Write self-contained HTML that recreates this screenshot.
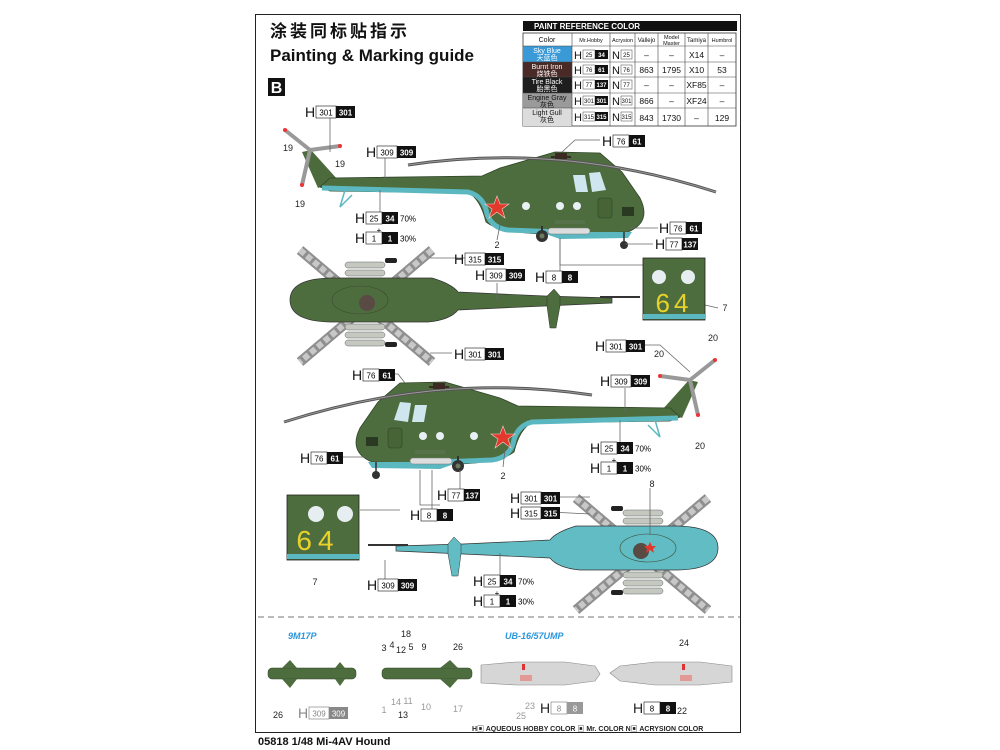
<!DOCTYPE html>
<html><head><meta charset="utf-8">
<style>
html,body{margin:0;padding:0;background:#fff;}
svg{display:block;font-family:"Liberation Sans","Noto Sans CJK SC",sans-serif;}
.n{font-size:9px;fill:#222}
.H{font-size:14px;fill:#111}
</style></head><body>
<svg width="1000" height="750" viewBox="0 0 1000 750" xmlns="http://www.w3.org/2000/svg">
<defs>
 <g id="heli">
  <path d="M318,188 L302,152 L311,150 L338,180 Z" fill="#4c6b3c"/>
  <path d="M320,187 L330,178 L482,176 L500,168 L555,152 L600,153 L622,172 L640,198 Q652,222 628,232 L540,234 Q498,232 486,222 Q480,198 468,193 L330,191 Z" fill="#4e6d3e" stroke="#2f4427" stroke-width="0.8"/>
  <path d="M322,188 L468,192 Q484,196 487,214 Q492,228 508,230 L560,232" fill="none" stroke="#5cb8c0" stroke-width="5"/>
  <path d="M540,232 L632,232 L628,238 L560,239 Z" fill="#5cb8c0"/>
  <path d="M573,175 L585,175 L588,192 L576,192 Z" fill="#cfe6ee"/>
  <path d="M589,173 L600,172 L606,190 L592,192 Z" fill="#cfe6ee"/>
  <circle cx="526" cy="206" r="4" fill="#e8f0f5"/>
  <circle cx="560" cy="206" r="4" fill="#e8f0f5"/>
  <circle cx="577" cy="206" r="4" fill="#e8f0f5"/>
  <rect x="622" y="207" width="12" height="9" fill="#2a3a22"/>
  <rect x="598" y="198" width="14" height="20" rx="3" fill="#466436" stroke="#2f4427" stroke-width="0.6"/>
  <polygon points="497,196 500,204 509,204 502,209 505,218 497,212 489,218 492,209 485,204 494,204" fill="#e2392c" stroke="#f4d0c8" stroke-width="0.6"/>
  <rect x="548" y="228" width="42" height="6" rx="3" fill="#ddd" stroke="#777" stroke-width="0.5"/>
  <rect x="555" y="220" width="30" height="4" fill="#56724a"/>
  <line x1="542" y1="226" x2="542" y2="234" stroke="#333" stroke-width="2"/>
  <circle cx="542" cy="236" r="6" fill="#333"/><circle cx="542" cy="236" r="2.5" fill="#6a7a5a"/>
  <line x1="624" y1="232" x2="624" y2="242" stroke="#333" stroke-width="1.5"/>
  <circle cx="624" cy="245" r="4" fill="#333"/>
  <path d="M345,190 L340,207 L352,195" fill="none" stroke="#5cb8c0" stroke-width="1.5"/>
  <path d="M408,165 Q560,142 716,192" fill="none" stroke="#555" stroke-width="3"/>
  <path d="M408,165 Q560,142 716,192" fill="none" stroke="#999" stroke-width="1"/>
  <rect x="555" y="153" width="12" height="6" fill="#3a2a22"/>
  <rect x="551" y="156" width="20" height="2" fill="#3a2a22"/>
  <line x1="310" y1="150" x2="285" y2="130" stroke="#999" stroke-width="4"/>
  <line x1="310" y1="150" x2="340" y2="146" stroke="#999" stroke-width="4"/>
  <line x1="310" y1="150" x2="302" y2="185" stroke="#999" stroke-width="4"/>
  <circle cx="285" cy="130" r="2" fill="#e33"/><circle cx="340" cy="146" r="2" fill="#e33"/><circle cx="302" cy="185" r="2" fill="#e33"/>
 </g>
 <g id="top">
  <g stroke="#8f8f8f" stroke-width="10"><line x1="300" y1="250" x2="432" y2="362"/><line x1="432" y1="250" x2="300" y2="362"/></g>
  <g stroke="#c8c8c8" stroke-width="6" stroke-dasharray="6 3"><line x1="300" y1="250" x2="432" y2="362"/><line x1="432" y1="250" x2="300" y2="362"/></g>
  <g fill="#c4c8c0" stroke="#666" stroke-width="0.5">
   <rect x="345" y="262" width="40" height="6" rx="3"/><rect x="345" y="270" width="40" height="6" rx="3"/><rect x="345" y="278" width="40" height="6" rx="3"/>
   <rect x="345" y="324" width="40" height="6" rx="3"/><rect x="345" y="332" width="40" height="6" rx="3"/><rect x="345" y="340" width="40" height="6" rx="3"/>
  </g>
  <path d="M290,300 Q290,279 330,278 L432,278 Q452,284 458,292 L545,296 L612,298 L612,303 L545,306 L458,310 Q450,320 428,322 L330,322 Q290,321 290,300 Z" fill="currentColor" stroke="#333" stroke-width="0.7"/>
  <path d="M547,296 L554,289 L560,296 L560,306 L556,328 L550,328 L547,306 Z" fill="currentColor" stroke="#333" stroke-width="0.5"/>
  <line x1="600" y1="297" x2="640" y2="297" stroke="#333" stroke-width="2"/>
  <ellipse cx="360" cy="300" rx="28" ry="14" fill="none" stroke="#3a4a30" stroke-width="0.6"/>
  <circle cx="367" cy="303" r="8" fill="#5a4a44"/>
  <rect x="385" y="258" width="12" height="5" rx="2" fill="#222"/><rect x="385" y="342" width="12" height="5" rx="2" fill="#222"/>
 </g>
</defs>

<rect x="255.5" y="14.5" width="485" height="718" fill="none" stroke="#222" stroke-width="1"/>
<text x="270" y="37" font-size="17" font-weight="bold" fill="#111" letter-spacing="3">涂装同标贴指示</text>
<text x="270" y="61" font-size="17" font-weight="bold" fill="#111">Painting &amp; Marking guide</text>
<rect x="268" y="78" width="17" height="18" fill="#111"/>
<text x="276.5" y="93" font-size="16" font-weight="bold" fill="#fff" text-anchor="middle">B</text>

<!-- table -->
<g font-size="7" text-anchor="middle">
<rect x="523" y="21" width="214" height="10" fill="#111"/>
<text x="534" y="29" font-size="8" font-weight="bold" fill="#fff" text-anchor="start">PAINT  REFERENCE COLOR</text>
<rect x="523" y="33" width="213" height="93" fill="#fff" stroke="#333" stroke-width="0.8"/>
<rect x="523" y="46" width="49" height="16" fill="#3a9ad8"/>
<rect x="523" y="62" width="49" height="15" fill="#4a2a26"/>
<rect x="523" y="77" width="49" height="16" fill="#1e1e1e"/>
<rect x="523" y="93" width="49" height="15" fill="#9a9a9a"/>
<rect x="523" y="108" width="49" height="18" fill="#dcdcdc"/>
<g stroke="#444" stroke-width="0.6">
<line x1="523" y1="46" x2="736" y2="46"/><line x1="523" y1="62" x2="736" y2="62"/><line x1="523" y1="77" x2="736" y2="77"/><line x1="523" y1="93" x2="736" y2="93"/><line x1="523" y1="108" x2="736" y2="108"/>
<line x1="572" y1="33" x2="572" y2="126"/><line x1="610" y1="33" x2="610" y2="126"/><line x1="635" y1="33" x2="635" y2="126"/><line x1="658" y1="33" x2="658" y2="126"/><line x1="685" y1="33" x2="685" y2="126"/><line x1="708" y1="33" x2="708" y2="126"/>
</g>
<text x="547" y="42" fill="#111">Color</text><text x="591" y="42" font-size="5.5" fill="#111">Mr.Hobby</text><text x="622.5" y="42" font-size="5.5" fill="#111">Acrysion</text><text x="646.5" y="42" font-size="6" fill="#111">Vallejo</text><text x="671.5" y="39" font-size="5.5" fill="#111">Model</text><text x="671.5" y="45" font-size="5.5" fill="#111">Master</text><text x="696.5" y="42" font-size="6" fill="#111">Tamiya</text><text x="722" y="42" font-size="5.5" fill="#111">Humbrol</text>
<g fill="#fff"><text x="547" y="53">Sky Blue</text><text x="547" y="60">天蓝色</text><text x="547" y="69">Burnt Iron</text><text x="547" y="76">烧铁色</text><text x="547" y="84">Tire Black</text><text x="547" y="91">胎黑色</text></g>
<g fill="#111"><text x="547" y="100">Engine Gray</text><text x="547" y="107">灰色</text><text x="547" y="115">Light Gull</text><text x="547" y="122">灰色</text></g>
<g font-size="8.5" fill="#111">
<text x="646.5" y="58">–</text><text x="671.5" y="58">–</text><text x="696.5" y="58">X14</text><text x="722" y="58">–</text>
<text x="646.5" y="73">863</text><text x="671.5" y="73">1795</text><text x="696.5" y="73">X10</text><text x="722" y="73">53</text>
<text x="646.5" y="88">–</text><text x="671.5" y="88">–</text><text x="696.5" y="88">XF85</text><text x="722" y="88">–</text>
<text x="646.5" y="104">866</text><text x="671.5" y="104">–</text><text x="696.5" y="104">XF24</text><text x="722" y="104">–</text>
<text x="646.5" y="121">843</text><text x="671.5" y="121">1730</text><text x="696.5" y="121">–</text><text x="722" y="121">129</text>
</g>
<g font-size="11" fill="#111" text-anchor="start"><text x="574" y="59">H</text><text x="574" y="74">H</text><text x="574" y="89">H</text><text x="574" y="105">H</text><text x="574" y="121">H</text>
<text x="612" y="59">N</text><text x="612" y="74">N</text><text x="612" y="89">N</text><text x="612" y="105">N</text><text x="612" y="121">N</text></g>
<g stroke="#444" stroke-width="0.5" fill="#fff"><rect x="583" y="50" width="12" height="9"/><rect x="583" y="65" width="12" height="9"/><rect x="583" y="80" width="12" height="9"/><rect x="583" y="96" width="12" height="9"/><rect x="583" y="112" width="12" height="9"/>
<rect x="621" y="50" width="11" height="9"/><rect x="621" y="65" width="11" height="9"/><rect x="621" y="80" width="11" height="9"/><rect x="621" y="96" width="11" height="9"/><rect x="621" y="112" width="11" height="9"/></g>
<g fill="#111"><rect x="595" y="50" width="13" height="9"/><rect x="595" y="65" width="13" height="9"/><rect x="595" y="80" width="13" height="9"/><rect x="595" y="96" width="13" height="9"/><rect x="595" y="112" width="13" height="9"/></g>
<g font-size="6" fill="#111"><text x="589" y="57">25</text><text x="589" y="72">76</text><text x="589" y="87">77</text><text x="589" y="103">301</text><text x="589" y="119">315</text>
<text x="626.5" y="57">25</text><text x="626.5" y="72">76</text><text x="626.5" y="87">77</text><text x="626.5" y="103">301</text><text x="626.5" y="119">315</text></g>
<g font-size="6" fill="#fff" font-weight="bold"><text x="601.5" y="57">34</text><text x="601.5" y="72">61</text><text x="601.5" y="87">137</text><text x="601.5" y="103">301</text><text x="601.5" y="119">315</text></g>
</g>

<use href="#heli"/>
<use href="#heli" transform="translate(1000,230) scale(-1,1)"/>
<use href="#top" color="#4e6d3e"/>
<use href="#top" color="#62bcc4" transform="translate(1008,248) scale(-1,1)"/>
<polygon points="650,542 652,546 656,546 653,549 654,553 650,550 646,553 647,549 644,546 648,546" fill="#e2392c"/>

<g stroke="#666" stroke-width="0.8" fill="none">
<line x1="330" y1="118" x2="330" y2="152"/><line x1="385" y1="158" x2="385" y2="180"/><line x1="380" y1="190" x2="380" y2="212"/>
<polyline points="600,140 575,140 562,152"/><polyline points="658,228 630,228"/><polyline points="653,244 625,244"/>
<line x1="500" y1="225" x2="497" y2="240"/><polyline points="560,238 560,265 643,265"/><line x1="560" y1="238" x2="560" y2="272"/>
<line x1="430" y1="258" x2="495" y2="258"/><line x1="497" y1="283" x2="497" y2="300"/><line x1="430" y1="353" x2="452" y2="353"/>
<line x1="705" y1="305" x2="718" y2="308"/><polyline points="630,345 660,345 690,372"/><line x1="625" y1="388" x2="625" y2="412"/><line x1="620" y1="420" x2="620" y2="444"/>
<polyline points="375,374 398,374 405,383"/><polyline points="340,457 365,457"/><line x1="460" y1="470" x2="460" y2="490"/><polyline points="420,470 420,505 440,505"/><line x1="432" y1="470" x2="432" y2="512"/>
<line x1="505" y1="450" x2="503" y2="467"/><line x1="550" y1="497" x2="590" y2="497"/><line x1="550" y1="512" x2="590" y2="514"/>
<line x1="360" y1="510" x2="400" y2="510"/><line x1="385" y1="560" x2="385" y2="582"/><line x1="500" y1="553" x2="500" y2="578"/><line x1="650" y1="488" x2="650" y2="535"/>
</g>

<g>
<g transform="translate(305,105)"><text class="H" y="12">H</text><rect x="11" y="1" width="20" height="12" fill="#fff" stroke="#333" stroke-width="0.7"/><text x="21" y="10.5" font-size="8" text-anchor="middle">301</text><rect x="31" y="1" width="19" height="12" fill="#111"/><text x="40.5" y="10.5" font-size="8" fill="#fff" font-weight="bold" text-anchor="middle">301</text></g>
<g transform="translate(366,145)"><text class="H" y="12">H</text><rect x="11" y="1" width="20" height="12" fill="#fff" stroke="#333" stroke-width="0.7"/><text x="21" y="10.5" font-size="8" text-anchor="middle">309</text><rect x="31" y="1" width="19" height="12" fill="#111"/><text x="40.5" y="10.5" font-size="8" fill="#fff" font-weight="bold" text-anchor="middle">309</text></g>
<g transform="translate(355,211)"><text class="H" y="12">H</text><rect x="11" y="1" width="16" height="12" fill="#fff" stroke="#333" stroke-width="0.7"/><text x="19" y="10.5" font-size="8" text-anchor="middle">25</text><rect x="27" y="1" width="16" height="12" fill="#111"/><text x="35" y="10.5" font-size="8" fill="#fff" font-weight="bold" text-anchor="middle">34</text><text x="45" y="10.5" font-size="8">70%</text><text x="24" y="22" font-size="8" text-anchor="middle">+</text></g>
<g transform="translate(355,231)"><text class="H" y="12">H</text><rect x="11" y="1" width="16" height="12" fill="#fff" stroke="#333" stroke-width="0.7"/><text x="19" y="10.5" font-size="8" text-anchor="middle">1</text><rect x="27" y="1" width="16" height="12" fill="#111"/><text x="35" y="10.5" font-size="8" fill="#fff" font-weight="bold" text-anchor="middle">1</text><text x="45" y="10.5" font-size="8">30%</text></g>
<g transform="translate(602,134)"><text class="H" y="12">H</text><rect x="11" y="1" width="16" height="12" fill="#fff" stroke="#333" stroke-width="0.7"/><text x="19" y="10.5" font-size="8" text-anchor="middle">76</text><rect x="27" y="1" width="16" height="12" fill="#111"/><text x="35" y="10.5" font-size="8" fill="#fff" font-weight="bold" text-anchor="middle">61</text></g>
<g transform="translate(659,221)"><text class="H" y="12">H</text><rect x="11" y="1" width="16" height="12" fill="#fff" stroke="#333" stroke-width="0.7"/><text x="19" y="10.5" font-size="8" text-anchor="middle">76</text><rect x="27" y="1" width="16" height="12" fill="#111"/><text x="35" y="10.5" font-size="8" fill="#fff" font-weight="bold" text-anchor="middle">61</text></g>
<g transform="translate(655,237)"><text class="H" y="12">H</text><rect x="11" y="1" width="16" height="12" fill="#fff" stroke="#333" stroke-width="0.7"/><text x="19" y="10.5" font-size="8" text-anchor="middle">77</text><rect x="27" y="1" width="16" height="12" fill="#111"/><text x="35" y="10.5" font-size="8" fill="#fff" font-weight="bold" text-anchor="middle">137</text></g>
<g transform="translate(454,252)"><text class="H" y="12">H</text><rect x="11" y="1" width="20" height="12" fill="#fff" stroke="#333" stroke-width="0.7"/><text x="21" y="10.5" font-size="8" text-anchor="middle">315</text><rect x="31" y="1" width="19" height="12" fill="#111"/><text x="40.5" y="10.5" font-size="8" fill="#fff" font-weight="bold" text-anchor="middle">315</text></g>
<g transform="translate(475,268)"><text class="H" y="12">H</text><rect x="11" y="1" width="20" height="12" fill="#fff" stroke="#333" stroke-width="0.7"/><text x="21" y="10.5" font-size="8" text-anchor="middle">309</text><rect x="31" y="1" width="19" height="12" fill="#111"/><text x="40.5" y="10.5" font-size="8" fill="#fff" font-weight="bold" text-anchor="middle">309</text></g>
<g transform="translate(535,270)"><text class="H" y="12">H</text><rect x="11" y="1" width="16" height="12" fill="#fff" stroke="#333" stroke-width="0.7"/><text x="19" y="10.5" font-size="8" text-anchor="middle">8</text><rect x="27" y="1" width="16" height="12" fill="#111"/><text x="35" y="10.5" font-size="8" fill="#fff" font-weight="bold" text-anchor="middle">8</text></g>
<g transform="translate(454,347)"><text class="H" y="12">H</text><rect x="11" y="1" width="20" height="12" fill="#fff" stroke="#333" stroke-width="0.7"/><text x="21" y="10.5" font-size="8" text-anchor="middle">301</text><rect x="31" y="1" width="19" height="12" fill="#111"/><text x="40.5" y="10.5" font-size="8" fill="#fff" font-weight="bold" text-anchor="middle">301</text></g>
<g transform="translate(595,339)"><text class="H" y="12">H</text><rect x="11" y="1" width="20" height="12" fill="#fff" stroke="#333" stroke-width="0.7"/><text x="21" y="10.5" font-size="8" text-anchor="middle">301</text><rect x="31" y="1" width="19" height="12" fill="#111"/><text x="40.5" y="10.5" font-size="8" fill="#fff" font-weight="bold" text-anchor="middle">301</text></g>
<g transform="translate(600,374)"><text class="H" y="12">H</text><rect x="11" y="1" width="20" height="12" fill="#fff" stroke="#333" stroke-width="0.7"/><text x="21" y="10.5" font-size="8" text-anchor="middle">309</text><rect x="31" y="1" width="19" height="12" fill="#111"/><text x="40.5" y="10.5" font-size="8" fill="#fff" font-weight="bold" text-anchor="middle">309</text></g>
<g transform="translate(590,441)"><text class="H" y="12">H</text><rect x="11" y="1" width="16" height="12" fill="#fff" stroke="#333" stroke-width="0.7"/><text x="19" y="10.5" font-size="8" text-anchor="middle">25</text><rect x="27" y="1" width="16" height="12" fill="#111"/><text x="35" y="10.5" font-size="8" fill="#fff" font-weight="bold" text-anchor="middle">34</text><text x="45" y="10.5" font-size="8">70%</text><text x="24" y="22" font-size="8" text-anchor="middle">+</text></g>
<g transform="translate(590,461)"><text class="H" y="12">H</text><rect x="11" y="1" width="16" height="12" fill="#fff" stroke="#333" stroke-width="0.7"/><text x="19" y="10.5" font-size="8" text-anchor="middle">1</text><rect x="27" y="1" width="16" height="12" fill="#111"/><text x="35" y="10.5" font-size="8" fill="#fff" font-weight="bold" text-anchor="middle">1</text><text x="45" y="10.5" font-size="8">30%</text></g>
<g transform="translate(352,368)"><text class="H" y="12">H</text><rect x="11" y="1" width="16" height="12" fill="#fff" stroke="#333" stroke-width="0.7"/><text x="19" y="10.5" font-size="8" text-anchor="middle">76</text><rect x="27" y="1" width="16" height="12" fill="#111"/><text x="35" y="10.5" font-size="8" fill="#fff" font-weight="bold" text-anchor="middle">61</text></g>
<g transform="translate(300,451)"><text class="H" y="12">H</text><rect x="11" y="1" width="16" height="12" fill="#fff" stroke="#333" stroke-width="0.7"/><text x="19" y="10.5" font-size="8" text-anchor="middle">76</text><rect x="27" y="1" width="16" height="12" fill="#111"/><text x="35" y="10.5" font-size="8" fill="#fff" font-weight="bold" text-anchor="middle">61</text></g>
<g transform="translate(437,488)"><text class="H" y="12">H</text><rect x="11" y="1" width="16" height="12" fill="#fff" stroke="#333" stroke-width="0.7"/><text x="19" y="10.5" font-size="8" text-anchor="middle">77</text><rect x="27" y="1" width="16" height="12" fill="#111"/><text x="35" y="10.5" font-size="8" fill="#fff" font-weight="bold" text-anchor="middle">137</text></g>
<g transform="translate(410,508)"><text class="H" y="12">H</text><rect x="11" y="1" width="16" height="12" fill="#fff" stroke="#333" stroke-width="0.7"/><text x="19" y="10.5" font-size="8" text-anchor="middle">8</text><rect x="27" y="1" width="16" height="12" fill="#111"/><text x="35" y="10.5" font-size="8" fill="#fff" font-weight="bold" text-anchor="middle">8</text></g>
<g transform="translate(510,491)"><text class="H" y="12">H</text><rect x="11" y="1" width="20" height="12" fill="#fff" stroke="#333" stroke-width="0.7"/><text x="21" y="10.5" font-size="8" text-anchor="middle">301</text><rect x="31" y="1" width="19" height="12" fill="#111"/><text x="40.5" y="10.5" font-size="8" fill="#fff" font-weight="bold" text-anchor="middle">301</text></g>
<g transform="translate(510,506)"><text class="H" y="12">H</text><rect x="11" y="1" width="20" height="12" fill="#fff" stroke="#333" stroke-width="0.7"/><text x="21" y="10.5" font-size="8" text-anchor="middle">315</text><rect x="31" y="1" width="19" height="12" fill="#111"/><text x="40.5" y="10.5" font-size="8" fill="#fff" font-weight="bold" text-anchor="middle">315</text></g>
<g transform="translate(367,578)"><text class="H" y="12">H</text><rect x="11" y="1" width="20" height="12" fill="#fff" stroke="#333" stroke-width="0.7"/><text x="21" y="10.5" font-size="8" text-anchor="middle">309</text><rect x="31" y="1" width="19" height="12" fill="#111"/><text x="40.5" y="10.5" font-size="8" fill="#fff" font-weight="bold" text-anchor="middle">309</text></g>
<g transform="translate(473,574)"><text class="H" y="12">H</text><rect x="11" y="1" width="16" height="12" fill="#fff" stroke="#333" stroke-width="0.7"/><text x="19" y="10.5" font-size="8" text-anchor="middle">25</text><rect x="27" y="1" width="16" height="12" fill="#111"/><text x="35" y="10.5" font-size="8" fill="#fff" font-weight="bold" text-anchor="middle">34</text><text x="45" y="10.5" font-size="8">70%</text><text x="24" y="22" font-size="8" text-anchor="middle">+</text></g>
<g transform="translate(473,594)"><text class="H" y="12">H</text><rect x="11" y="1" width="16" height="12" fill="#fff" stroke="#333" stroke-width="0.7"/><text x="19" y="10.5" font-size="8" text-anchor="middle">1</text><rect x="27" y="1" width="16" height="12" fill="#111"/><text x="35" y="10.5" font-size="8" fill="#fff" font-weight="bold" text-anchor="middle">1</text><text x="45" y="10.5" font-size="8">30%</text></g>
</g>

<g class="n" text-anchor="middle">
<text x="288" y="151">19</text><text x="340" y="167">19</text><text x="300" y="207">19</text><text x="497" y="248">2</text>
<text x="725" y="311">7</text><text x="713" y="341">20</text><text x="659" y="357">20</text><text x="700" y="449">20</text>
<text x="503" y="479">2</text><text x="652" y="487">8</text><text x="315" y="585">7</text>
</g>

<rect x="643" y="258" width="62" height="62" fill="#4e6d3e" stroke="#222" stroke-width="0.8"/>
<rect x="643" y="314" width="62" height="5" fill="#5cb8c0"/>
<circle cx="659" cy="277" r="7" fill="#e6eef2"/><circle cx="688" cy="277" r="7" fill="#e6eef2"/>
<text x="674" y="312" font-size="26" fill="#e8d22a" text-anchor="middle" letter-spacing="4">64</text>
<rect x="287" y="495" width="72" height="65" fill="#4e6d3e" stroke="#222" stroke-width="0.8"/>
<rect x="287" y="554" width="72" height="5" fill="#5cb8c0"/>
<circle cx="316" cy="514" r="8" fill="#e6eef2"/><circle cx="345" cy="514" r="8" fill="#e6eef2"/>
<text x="318" y="550" font-size="28" fill="#e8d22a" text-anchor="middle" letter-spacing="6">64</text>

<line x1="258" y1="617" x2="740" y2="617" stroke="#777" stroke-width="1" stroke-dasharray="6 4"/>
<text x="288" y="639" font-size="9" font-weight="bold" font-style="italic" fill="#2a96dc">9M17P</text>
<text x="505" y="639" font-size="9" font-weight="bold" font-style="italic" fill="#2a96dc">UB-16/57UMP</text>
<rect x="268" y="668" width="88" height="11" rx="4" fill="#4e6d3e" stroke="#2f4427" stroke-width="0.5"/>
<polygon points="282,668 290,660 297,668" fill="#4e6d3e"/><polygon points="282,679 290,688 297,679" fill="#4e6d3e"/>
<polygon points="335,668 340,662 345,668" fill="#4e6d3e"/><polygon points="335,679 340,686 345,679" fill="#4e6d3e"/>
<rect x="382" y="668" width="90" height="11" rx="4" fill="#4e6d3e" stroke="#2f4427" stroke-width="0.5"/>
<polygon points="440,668 450,660 458,668" fill="#4e6d3e"/><polygon points="440,679 450,688 458,679" fill="#4e6d3e"/>
<path d="M481,665 L516,662 L565,662 L595,666 L600,674 L595,681 L565,685 L516,685 L481,683 Z" fill="#d6d6d6" stroke="#888" stroke-width="0.6"/>
<rect x="520" y="675" width="12" height="6" fill="#e39a96"/><rect x="522" y="664" width="3" height="6" fill="#d33"/>
<path d="M610,673 L620,666 L655,662 L700,662 L732,666 L732,682 L700,685 L655,685 L620,681 Z" fill="#d6d6d6" stroke="#888" stroke-width="0.6"/>
<rect x="680" y="675" width="12" height="6" fill="#e39a96"/><rect x="682" y="664" width="3" height="6" fill="#d33"/>
<g class="n" text-anchor="middle">
<text x="384" y="651">3</text><text x="392" y="648">4</text><text x="406" y="637">18</text><text x="401" y="653">12</text><text x="411" y="650">5</text><text x="424" y="650">9</text><text x="458" y="650">26</text>
<text x="384" y="713" fill="#999">1</text><text x="396" y="705" fill="#999">14</text><text x="408" y="704" fill="#999">11</text><text x="403" y="718">13</text><text x="426" y="710" fill="#999">10</text><text x="458" y="712" fill="#999">17</text>
<text x="278" y="718">26</text><text x="530" y="709" fill="#999">23</text><text x="521" y="719" fill="#999">25</text><text x="684" y="646">24</text><text x="682" y="714">22</text>
</g>
<g transform="translate(298,706)"><text y="12" font-size="14" fill="#888">H</text><rect x="11" y="1" width="20" height="12" fill="#fff" stroke="#888" stroke-width="0.7"/><text x="21" y="10.5" font-size="8" fill="#888" text-anchor="middle">309</text><rect x="31" y="1" width="19" height="12" fill="#888"/><text x="40.5" y="10.5" font-size="8" fill="#fff" text-anchor="middle">309</text></g>
<g transform="translate(540,701)"><text y="12" font-size="14" fill="#222">H</text><rect x="11" y="1" width="16" height="12" fill="#fff" stroke="#888" stroke-width="0.7"/><text x="19" y="10.5" font-size="8" fill="#888" text-anchor="middle">8</text><rect x="27" y="1" width="16" height="12" fill="#999"/><text x="35" y="10.5" font-size="8" fill="#fff" text-anchor="middle">8</text></g>
<g transform="translate(633,701)"><text y="12" font-size="14" fill="#222">H</text><rect x="11" y="1" width="16" height="12" fill="#fff" stroke="#333" stroke-width="0.7"/><text x="19" y="10.5" font-size="8" text-anchor="middle">8</text><rect x="27" y="1" width="16" height="12" fill="#111"/><text x="35" y="10.5" font-size="8" fill="#fff" font-weight="bold" text-anchor="middle">8</text></g>
<text x="472" y="731" font-size="7" font-weight="bold" fill="#222">H▣ AQUEOUS HOBBY COLOR   ▣ Mr. COLOR   N▣ ACRYSION COLOR</text>
<text x="258" y="745" font-size="11" font-weight="bold" fill="#111">05818 1/48  Mi-4AV Hound</text>
</svg>
</body></html>
